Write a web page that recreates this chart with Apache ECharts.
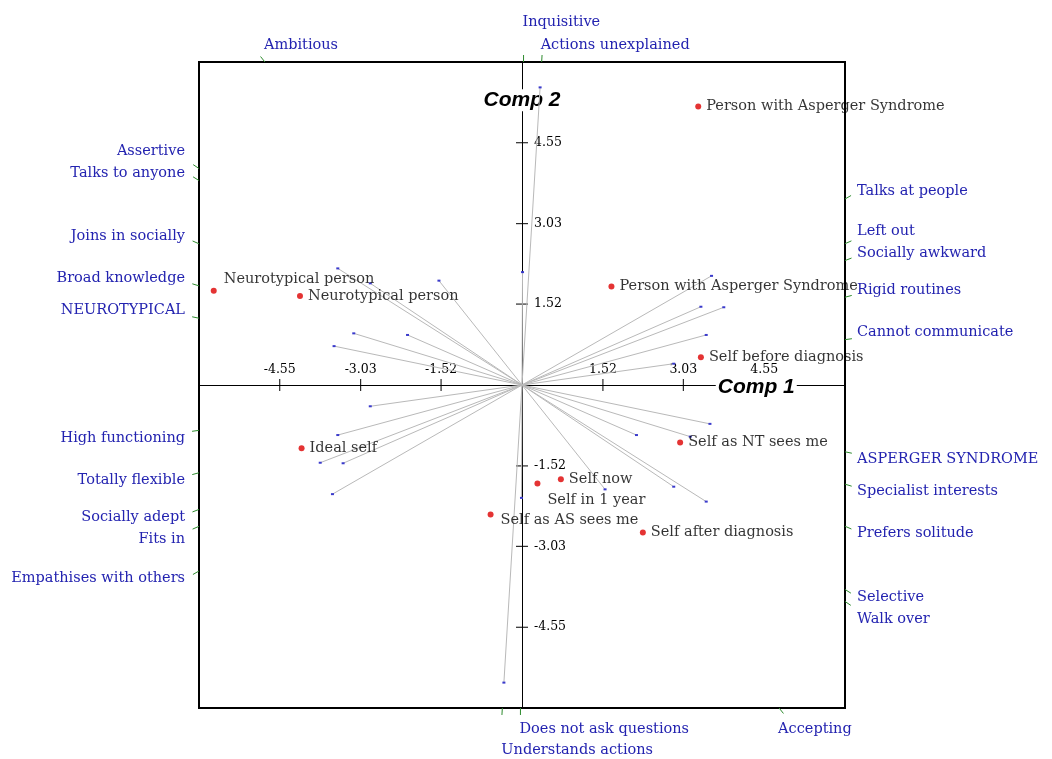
<!DOCTYPE html>
<html>
<head>
<meta charset="utf-8">
<script src="https://cdn.jsdelivr.net/npm/echarts@6/dist/echarts.min.js"></script>
<style>
  html, body { margin: 0; padding: 0; background: #fff; }
  #chart { width: 1052px; height: 759px; }
</style>
</head>
<body>
<div id="chart"></div>
<script>
// Elements (people / selves) on the first two principal components
const elementNames = [
  'Person with Asperger Syndrome', 'Neurotypical person', 'Neurotypical person',
  'Person with Asperger Syndrome', 'Self before diagnosis', 'Ideal self',
  'Self as NT sees me', 'Self now', 'Self in 1 year', 'Self as AS sees me',
  'Self after diagnosis'
];
const elementX = [3.31, -5.79, -4.17, 1.68, 3.36, -4.14, 2.97, 0.73, 0.29, -0.59, 2.27];
const elementY = [5.23, 1.77, 1.67, 1.85, 0.52, -1.19, -1.08, -1.77, -1.85, -2.43, -2.77];

// Constructs: the first pole sits at (x, y), the opposite pole at (-x, -y)
const constructPoleA = [
  'Assertive', 'Talks to anyone', 'Joins in socially', 'Broad knowledge',
  'NEUROTYPICAL', 'High functioning', 'Totally flexible', 'Socially adept',
  'Fits in', 'Empathises with others', 'Ambitious', 'Inquisitive',
  'Actions unexplained'
];
const constructPoleB = [
  'Walk over', 'Selective', 'Prefers solitude', 'Specialist interests',
  'ASPERGER SYNDROME', 'Cannot communicate', 'Rigid routines', 'Socially awkward',
  'Left out', 'Talks at people', 'Accepting', 'Does not ask questions',
  'Understands actions'
];
const constructX = [-2.85, -3.46, -2.15, -3.16, -3.53, -2.85, -3.46, -3.79, -3.36, -3.56, -1.56, 0.01, 0.34];
const constructY = [1.91, 2.19, 0.94, 0.97, 0.73, -0.40, -0.94, -1.46, -1.47, -2.05, 1.96, 2.12, 5.59];

// Axis ticks shared by both components
const tickValues = [-4.55, -3.03, -1.52, 1.52, 3.03, 4.55];
const tickLabels = ['-4.55', '-3.03', '-1.52', '1.52', '3.03', '4.55'];
const axisTitles = ['Comp 1', 'Comp 2'];

const LIMIT = 6.0667;
const LABEL_FONT_FAMILY = '"DejaVu Serif", "Liberation Serif", serif';
const LABEL_SIZE = 14.5;
const LABEL_FONT = LABEL_SIZE + 'px ' + LABEL_FONT_FAMILY;
const TICK_FONT = '12.5px ' + LABEL_FONT_FAMILY;
const TITLE_FONT = 'italic bold 21px "Liberation Sans", Arial, sans-serif';
const POLE_COLOR = '#2323b0';
const POLE_TICK_COLOR = '#2e8b2e';

// Small label nudges for crowded element labels (pixels)
const labelNudges = { 1: [2, -12], 8: [2, 17], 9: [2, 6] };

const GRID = { left: 199, top: 62, width: 646, height: 646 };

const chart = echarts.init(document.getElementById('chart'), null, { renderer: 'canvas' });

const measureCtx = document.createElement('canvas').getContext('2d');
function textWidth(text, font) {
  measureCtx.font = font;
  return measureCtx.measureText(text).width;
}

const baseOption = {
  animation: false,
  backgroundColor: '#ffffff',
  grid: {
    left: GRID.left, top: GRID.top, width: GRID.width, height: GRID.height,
    show: true, borderColor: '#000', borderWidth: 2, backgroundColor: 'transparent'
  },
  xAxis: {
    type: 'value', min: -LIMIT, max: LIMIT,
    axisLine: { show: true, onZero: true, lineStyle: { color: '#000', width: 1 } },
    axisTick: { show: false }, axisLabel: { show: false }, splitLine: { show: false }
  },
  yAxis: {
    type: 'value', min: -LIMIT, max: LIMIT,
    axisLine: { show: true, onZero: true, lineStyle: { color: '#000', width: 1 } },
    axisTick: { show: false }, axisLabel: { show: false }, splitLine: { show: false }
  },
  series: []
};
chart.setOption(baseOption);

// Build the pole list and place each pole label where its ray meets the frame
const poles = [];
constructPoleA.forEach((name, i) => {
  poles.push({ name: name, vx: constructX[i], vy: constructY[i] });
  poles.push({ name: constructPoleB[i], vx: -constructX[i], vy: -constructY[i] });
});
const centerPx = chart.convertToPixel({ gridIndex: 0 }, [0, 0]);
poles.forEach(p => {
  const m = Math.max(Math.abs(p.vx), Math.abs(p.vy));
  p.bx = p.vx * LIMIT / m;
  p.by = p.vy * LIMIT / m;
  p.side = Math.abs(p.vx) >= Math.abs(p.vy) ? (p.vx < 0 ? 'left' : 'right') : (p.vy > 0 ? 'top' : 'bottom');
  const px = chart.convertToPixel({ gridIndex: 0 }, [p.bx, p.by]);
  p.px = px[0];
  p.py = px[1];
  p.width = textWidth(p.name, LABEL_FONT);
});

// Left / right: stack outward from the horizontal axis when labels crowd
const GAP_MIN = 17, GAP_PUSH = 22;
['left', 'right'].forEach(side => {
  const upper = poles.filter(p => p.side === side && p.py < centerPx[1]).sort((a, b) => b.py - a.py);
  const lower = poles.filter(p => p.side === side && p.py >= centerPx[1]).sort((a, b) => a.py - b.py);
  let prev = null;
  upper.forEach(p => {
    p.anchor = p.py;
    if (prev !== null && prev - p.anchor < GAP_MIN) p.anchor = prev - GAP_PUSH;
    p.vAlign = 'bottom';
    prev = p.anchor;
  });
  prev = null;
  lower.forEach(p => {
    p.anchor = p.py;
    if (prev !== null && p.anchor - prev < GAP_MIN) p.anchor = prev + GAP_PUSH;
    p.vAlign = 'top';
    prev = p.anchor;
  });
});
// Top / bottom: labels run rightward from the tick; overlapping ones move out a row
['top', 'bottom'].forEach(side => {
  const list = poles.filter(p => p.side === side).sort((a, b) => b.px - a.px);
  const placed = [];
  list.forEach(p => {
    let row = 0;
    const x0 = p.px - 1, x1 = p.px - 1 + p.width + 4;
    while (placed.some(q => q.row === row && !(x1 < q.x0 || x0 > q.x1))) row++;
    p.row = row;
    placed.push({ row: row, x0: x0, x1: x1 });
  });
});

const gridTop = GRID.top, gridBottom = GRID.top + GRID.height;
const gridLeft = GRID.left, gridRight = GRID.left + GRID.width;

chart.setOption({
  series: [
    {
      // Axis ticks, tick labels and component titles
      type: 'custom', name: 'axes', z: 1, clip: false, silent: true,
      data: [[0, 0]],
      renderItem: function (params, api) {
        const children = [];
        const o = api.coord([0, 0]);
        tickValues.forEach((v, k) => {
          const px = api.coord([v, 0]);
          children.push({ type: 'line', shape: { x1: px[0], y1: o[1] - 6, x2: px[0], y2: o[1] + 6 },
            style: { stroke: '#000', lineWidth: 1 } });
          children.push({ type: 'text', x: px[0], y: o[1] - 9,
            style: { text: tickLabels[k], font: TICK_FONT, fill: '#000', textAlign: 'center', textVerticalAlign: 'bottom' } });
          const py = api.coord([0, v]);
          children.push({ type: 'line', shape: { x1: o[0] - 6, y1: py[1], x2: o[0] + 6, y2: py[1] },
            style: { stroke: '#000', lineWidth: 1 } });
          children.push({ type: 'text', x: o[0] + 12, y: py[1],
            style: { text: tickLabels[k], font: TICK_FONT, fill: '#000', textAlign: 'left', textVerticalAlign: 'middle' } });
        });
        const t1 = api.coord([4.40, 0]);
        const t2 = api.coord([0, 5.35]);
        [[axisTitles[0], t1[0], t1[1] + 2], [axisTitles[1], t2[0], t2[1]]].forEach(t => {
          const w = textWidth(t[0], TITLE_FONT);
          children.push({ type: 'rect', shape: { x: t[1] - w / 2 - 2, y: t[2] - 11, width: w + 4, height: 22 },
            style: { fill: '#fff' } });
          children.push({ type: 'text', x: t[1], y: t[2],
            style: { text: t[0], font: TITLE_FONT, fill: '#000', textAlign: 'center', textVerticalAlign: 'middle' } });
        });
        return { type: 'group', children: children };
      }
    },
    {
      // Construct vectors through the origin with pole end markers
      type: 'custom', name: 'constructs', z: 3, clip: false, silent: true,
      data: constructX.map((x, i) => [x, constructY[i]]),
      renderItem: function (params, api) {
        const x = api.value(0), y = api.value(1);
        const a = api.coord([x, y]);
        const b = api.coord([-x, -y]);
        return {
          type: 'group',
          children: [
            { type: 'line', shape: { x1: a[0], y1: a[1], x2: b[0], y2: b[1] },
              style: { stroke: '#b9b9b9', lineWidth: 1 } },
            { type: 'rect', shape: { x: a[0] - 1.5, y: a[1] - 1, width: 3, height: 2 }, style: { fill: '#3a3acc' } },
            { type: 'rect', shape: { x: b[0] - 1.5, y: b[1] - 1, width: 3, height: 2 }, style: { fill: '#3a3acc' } }
          ]
        };
      }
    },
    {
      // Pole names around the frame, each with a short tick along its ray
      type: 'custom', name: 'poles', z: 2, clip: false, silent: true,
      data: poles.map(p => [p.bx, p.by]),
      renderItem: function (params, api) {
        const p = poles[params.dataIndex];
        const b = api.coord([api.value(0), api.value(1)]);
        const len = Math.hypot(p.vx, p.vy);
        const dx = p.vx / len, dy = -p.vy / len;
        const children = [
          { type: 'line', shape: { x1: b[0], y1: b[1], x2: b[0] + dx * 7, y2: b[1] + dy * 7 },
            style: { stroke: POLE_TICK_COLOR, lineWidth: 1 } }
        ];
        let tx, ty, align, vAlign;
        if (p.side === 'left') { tx = gridLeft - 14; ty = p.anchor; align = 'right'; vAlign = p.vAlign; }
        else if (p.side === 'right') { tx = gridRight + 12; ty = p.anchor; align = 'left'; vAlign = p.vAlign; }
        else if (p.side === 'top') { tx = b[0] - 1; ty = gridTop - 17 - p.row * 23; align = 'left'; vAlign = 'middle'; }
        else { tx = b[0] - 1; ty = gridBottom + 21 + p.row * 21; align = 'left'; vAlign = 'middle'; }
        const w = p.width;
        const bx = align === 'right' ? tx - w : tx;
        const byTop = vAlign === 'bottom' ? ty - 18 : (vAlign === 'top' ? ty : ty - 9);
        children.push({ type: 'rect', shape: { x: bx - 1, y: byTop + 1, width: w + 2, height: 17 }, style: { fill: '#fff' } });
        children.push({ type: 'text', x: tx, y: ty,
          style: { text: p.name, font: LABEL_FONT, fill: POLE_COLOR, textAlign: align, textVerticalAlign: vAlign } });
        return { type: 'group', children: children };
      }
    },
    {
      // Elements
      type: 'scatter', name: 'elements', z: 4, silent: true,
      symbol: 'circle', symbolSize: 6,
      itemStyle: { color: '#dd0000' },
      data: elementNames.map((n, i) => {
        const item = { value: [elementX[i], elementY[i]], name: n };
        if (labelNudges[i]) item.label = { offset: labelNudges[i] };
        return item;
      }),
      label: {
        show: true, position: 'right', distance: 5,
        formatter: '{b}', color: '#000', textBorderWidth: 0,
        fontFamily: LABEL_FONT_FAMILY, fontSize: LABEL_SIZE
      }
    }
  ]
});
</script>
</body>
</html>
